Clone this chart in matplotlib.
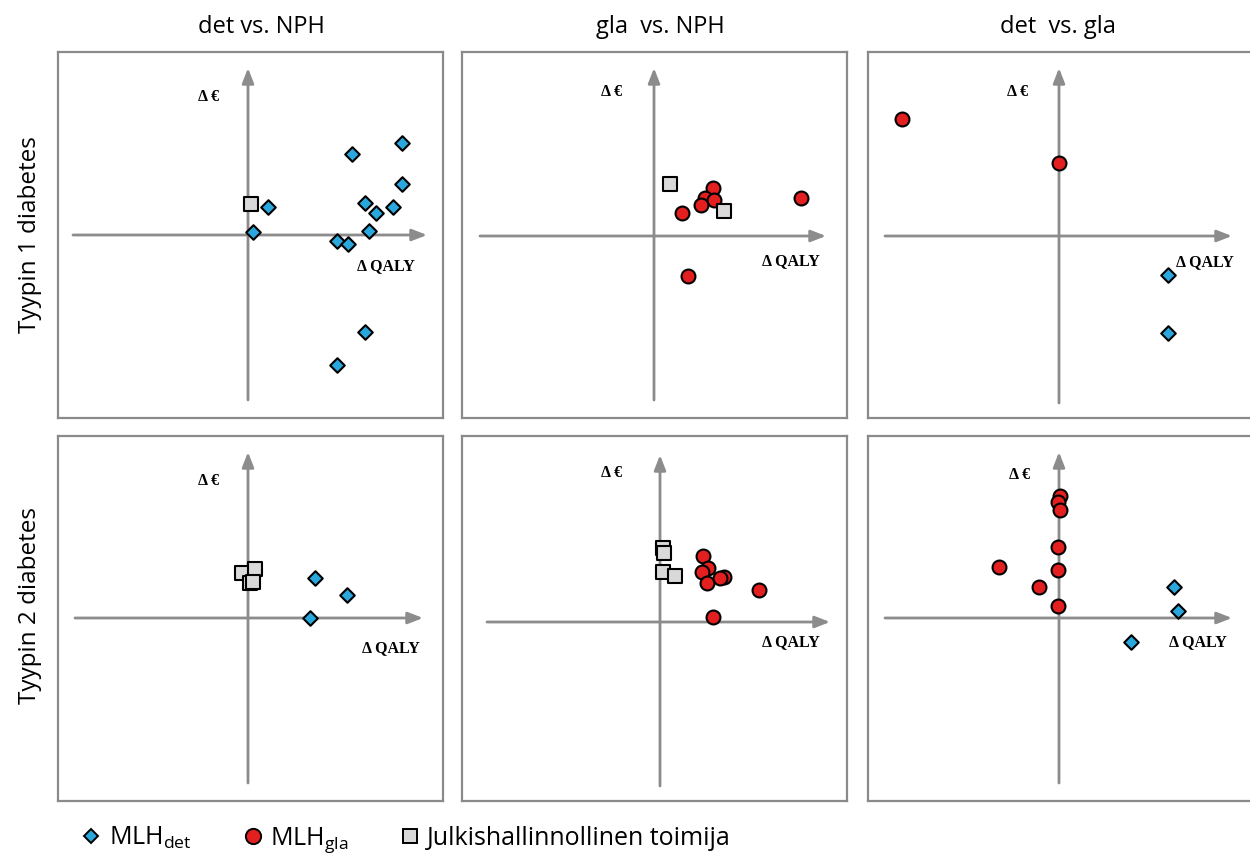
import matplotlib.pyplot as plt
from matplotlib.lines import Line2D

plt.rcParams['font.family'] = ['Open Sans', 'DejaVu Sans']
plt.rcParams['mathtext.default'] = 'regular'

W, H = 1250, 855

col_titles = ['det vs. NPH', 'gla  vs. NPH', 'det  vs. gla']
row_titles = ['Tyypin 1 diabetes', 'Tyypin 2 diabetes']
legend_labels = [r'MLH$_{det}$', r'MLH$_{gla}$', 'Julkishallinnollinen toimija']

# values: (delta QALY, delta cost), arbitrary units, origin = 0
# Tyypin 1, det vs. NPH
t1_dn_det_q = [20, 5, 104, 154, 154, 117, 128, 145, 121, 89, 100, 117, 89]
t1_dn_det_c = [28, 3, 81, 92, 51, 32, 22, 28, 4, -6, -9, -97, -130]
t1_dn_pub_q = [3]
t1_dn_pub_c = [31]
# Tyypin 1, gla vs. NPH
t1_gn_gla_q = [59, 51, 60, 47, 28, 147, 34]
t1_gn_gla_c = [48, 38, 36, 31, 23, 38, -40]
t1_gn_pub_q = [16, 70]
t1_gn_pub_c = [52, 25]
# Tyypin 1, det vs. gla
t1_dg_gla_q = [-157, 0]
t1_dg_gla_c = [117, 73]
t1_dg_det_q = [109, 109]
t1_dg_det_c = [-39, -97]
# Tyypin 2, det vs. NPH
t2_dn_det_q = [67, 99, 62]
t2_dn_det_c = [40, 23, 0]
t2_dn_pub_q = [-6, 7, 2, 5]
t2_dn_pub_c = [45, 49, 35, 36]
# Tyypin 2, gla vs. NPH
t2_gn_gla_q = [43, 48, 42, 47, 64, 60, 99, 53]
t2_gn_gla_c = [66, 54, 50, 39, 45, 44, 32, 5]
t2_gn_pub_q = [3, 4, 3, 15]
t2_gn_pub_c = [74, 69, 50, 46]
# Tyypin 2, det vs. gla
t2_dg_gla_q = [1, -1, 1, -1, -60, -1, -20, -1]
t2_dg_gla_c = [122, 116, 108, 71, 51, 48, 31, 12]
t2_dg_det_q = [115, 119, 72]
t2_dg_det_c = [31, 7, -24]

styles = {
    'det': dict(marker='D', s=55, c='#2aa7dd', edgecolors='black', linewidths=1.5),
    'gla': dict(marker='o', s=100, c='#e41f1f', edgecolors='black', linewidths=1.5),
    'pub': dict(marker='s', s=100, c='#d9d9d9', edgecolors='black', linewidths=1.5),
}

panels = [
    [[('det', t1_dn_det_q, t1_dn_det_c), ('pub', t1_dn_pub_q, t1_dn_pub_c)],
     [('gla', t1_gn_gla_q, t1_gn_gla_c), ('pub', t1_gn_pub_q, t1_gn_pub_c)],
     [('gla', t1_dg_gla_q, t1_dg_gla_c), ('det', t1_dg_det_q, t1_dg_det_c)]],
    [[('pub', t2_dn_pub_q, t2_dn_pub_c), ('det', t2_dn_det_q, t2_dn_det_c)],
     [('pub', t2_gn_pub_q, t2_gn_pub_c), ('gla', t2_gn_gla_q, t2_gn_gla_c)],
     [('gla', t2_dg_gla_q, t2_dg_gla_c), ('det', t2_dg_det_q, t2_dg_det_c)]],
]

# layout in pixels
col_x = [(58, 443), (462, 847), (868, 1252)]
row_y = [(52, 418), (436, 801)]
origin = [[(248, 235), (654, 236), (1059, 236)],
          [(248, 618), (660, 622), (1059, 618)]]
h_axis = [[(73, 427), (480, 826), (885, 1232)],
          [(75, 423), (487, 830), (885, 1232)]]
v_axis = [[(400, 68), (400, 68), (403, 68)],
          [(783, 452), (786, 455), (783, 452)]]
euro_pos = [[(209, 97), (612, 92), (1018, 92)],
            [(209, 481), (612, 473), (1020, 475)]]
qaly_pos = [[(386, 266), (791, 261), (1205, 262)],
            [(391, 648), (791, 642), (1198, 642)]]

fig = plt.figure(figsize=(W / 100, H / 100), dpi=100)
grey = '#8c8c8c'
label_font = dict(family=['Liberation Serif', 'DejaVu Serif'], fontweight='bold', fontsize=11.5)

for r in range(2):
    for c in range(3):
        x0, x1 = col_x[c]
        y0, y1 = row_y[r]
        ox, oy = origin[r][c]
        ax = fig.add_axes([x0 / W, 1 - y1 / H, (x1 - x0) / W, (y1 - y0) / H])
        ax.set_xlim(x0 - ox, x1 - ox)
        ax.set_ylim(oy - y1, oy - y0)
        ax.set_xticks([])
        ax.set_yticks([])
        for sp in ax.spines.values():
            sp.set_color('#8a8a8a')
            sp.set_linewidth(1.6)
        arrow = dict(arrowstyle='-|>,head_length=0.9,head_width=0.35', color=grey, lw=2,
                     shrinkA=0, shrinkB=0)
        hx0, hx1 = h_axis[r][c]
        ax.annotate('', xy=(hx1 - ox, 0), xytext=(hx0 - ox, 0), arrowprops=arrow, zorder=1)
        vy0, vy1 = v_axis[r][c]
        ax.annotate('', xy=(0, oy - vy1), xytext=(0, oy - vy0), arrowprops=arrow, zorder=1)
        ex, ey = euro_pos[r][c]
        ax.text(ex - ox, oy - ey, 'Δ €', ha='center', va='center', **label_font)
        qx, qy = qaly_pos[r][c]
        ax.text(qx - ox, oy - qy, 'Δ QALY', ha='center', va='center', **label_font)
        for kind, xs, ys in panels[r][c]:
            ax.scatter(xs, ys, zorder=3, clip_on=False, **styles[kind])

for c, t in enumerate(col_titles):
    cx = [261, 660, 1058][c]
    fig.text(cx / W, 1 - 27 / H, t, ha='center', va='center', fontsize=17)
for r, t in enumerate(row_titles):
    cy = [235, 605][r]
    fig.text(30 / W, 1 - cy / H, t, ha='center', va='center', rotation=90, fontsize=17.5)

handles = [Line2D([], [], linestyle='none', markersize=m, markeredgewidth=1.4,
                  markeredgecolor='black', marker=styles[k]['marker'],
                  markerfacecolor=styles[k]['c'])
           for k, m in [('det', 7.5), ('gla', 11), ('pub', 10)]]
fig.legend(handles, legend_labels, loc='lower left', bbox_to_anchor=(60 / W, -0.026),
           ncol=3, frameon=False, fontsize=18, handlelength=0.7, handletextpad=0.35,
           columnspacing=2.1)

fig.savefig('out.png', dpi=100)
